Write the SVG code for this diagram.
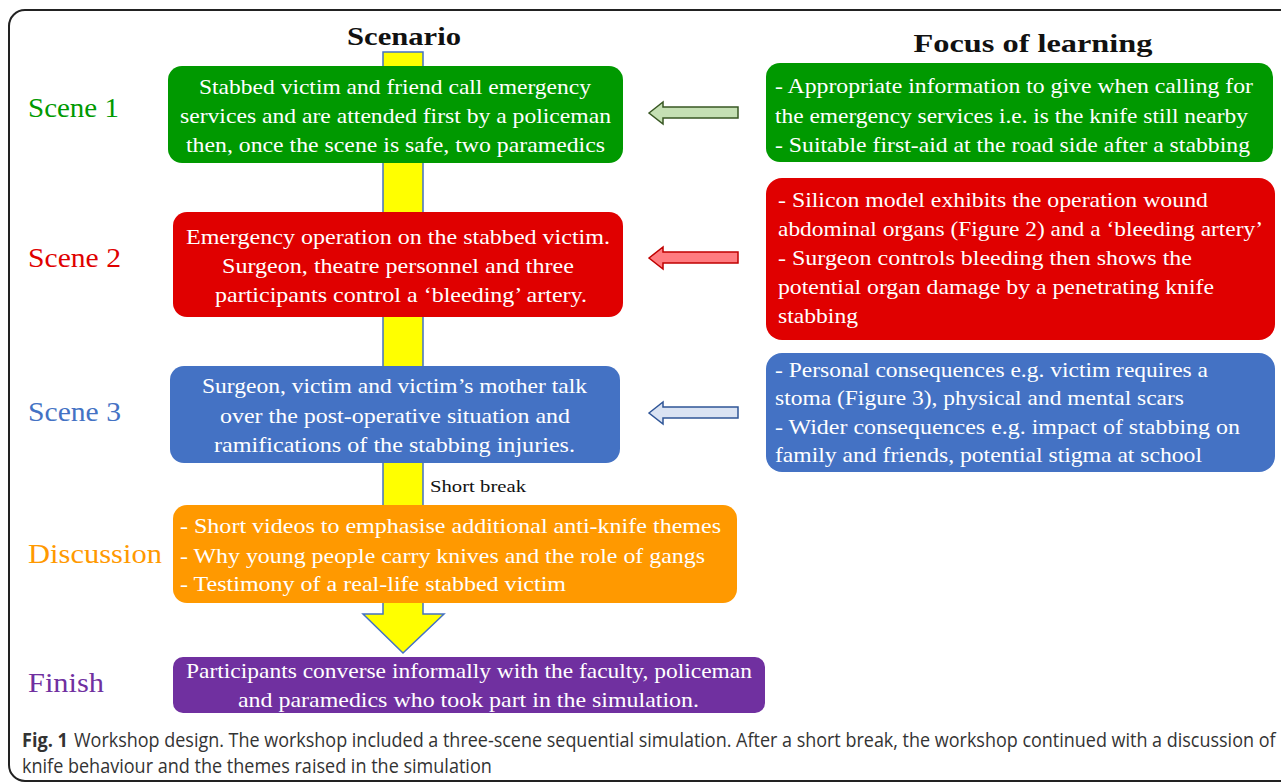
<svg xmlns="http://www.w3.org/2000/svg" width="1281" height="782" viewBox="0 0 1281 782">
<style>
.t{font-family:"Liberation Serif","Times New Roman",serif;fill:#fff;font-size:22px}
.c{text-anchor:middle}
.h{font-family:"Liberation Serif","Times New Roman",serif;font-size:26px;font-weight:bold;fill:#111;text-anchor:middle}
.lab{font-family:"Liberation Serif","Times New Roman",serif;font-size:28px}
.cap{font-family:"Open Sans","Liberation Sans",sans-serif;font-size:20px;fill:#333}
</style>
<rect x="9" y="10" width="1300" height="771" rx="16" fill="#fff" stroke="#222" stroke-width="2"/>
<text class="h" x="404" y="45" textLength="114" lengthAdjust="spacingAndGlyphs">Scenario</text>
<text class="h" x="1033" y="52" textLength="239" lengthAdjust="spacingAndGlyphs">Focus of learning</text>
<g id="connectors">
<polygon points="383,52 423,52 423,614 444,614 403,653 363,614 383,614" fill="#FFFF00" stroke="#4472C4" stroke-width="1.5"/>
<polygon points="649,113 663,102 663,107 738,107 738,118 663,118 663,124" fill="#C5E0B4" stroke="#385723" stroke-width="1.5"/>
<polygon points="649,258 663,247 663,252 738,252 738,263 663,263 663,269" fill="#FF7C80" stroke="#C00000" stroke-width="1.5"/>
<polygon points="649,413 663,402 663,407 738,407 738,418 663,418 663,424" fill="#DAE3F3" stroke="#2F5597" stroke-width="1.5"/>
</g>
<g id="labels">
<text class="lab" x="28" y="117" fill="#009900" textLength="91" lengthAdjust="spacingAndGlyphs">Scene 1</text>
<text class="lab" x="28" y="267" fill="#E00000" textLength="93" lengthAdjust="spacingAndGlyphs">Scene 2</text>
<text class="lab" x="28" y="421" fill="#4472C4" textLength="93" lengthAdjust="spacingAndGlyphs">Scene 3</text>
<text class="lab" x="28" y="563" fill="#FF9900" textLength="134" lengthAdjust="spacingAndGlyphs">Discussion</text>
<text class="lab" x="28" y="692" fill="#7030A0" textLength="76" lengthAdjust="spacingAndGlyphs">Finish</text>
</g>
<g id="scene1">
<rect x="168" y="66" width="455" height="97" rx="14" fill="#009900"/>
<text class="t c" x="395" y="94" textLength="392" lengthAdjust="spacingAndGlyphs">Stabbed victim and friend call emergency</text>
<text class="t c" x="395.5" y="123" textLength="431" lengthAdjust="spacingAndGlyphs">services and are attended first by a policeman</text>
<text class="t c" x="395.5" y="152" textLength="419" lengthAdjust="spacingAndGlyphs">then, once the scene is safe, two paramedics</text>
</g>
<g id="scene2">
<rect x="173" y="212" width="450" height="105" rx="14" fill="#E00000"/>
<text class="t c" x="398" y="244" textLength="424" lengthAdjust="spacingAndGlyphs">Emergency operation on the stabbed victim.</text>
<text class="t c" x="398" y="273" textLength="352" lengthAdjust="spacingAndGlyphs">Surgeon, theatre personnel and three</text>
<text class="t c" x="401" y="302" textLength="372" lengthAdjust="spacingAndGlyphs">participants control a ‘bleeding’ artery.</text>
</g>
<g id="scene3">
<rect x="170" y="366" width="450" height="97" rx="14" fill="#4472C4"/>
<text class="t c" x="394.5" y="393" textLength="385" lengthAdjust="spacingAndGlyphs">Surgeon, victim and victim’s mother talk</text>
<text class="t c" x="395" y="423" textLength="350" lengthAdjust="spacingAndGlyphs">over the post-operative situation and</text>
<text class="t c" x="394.5" y="452" textLength="361" lengthAdjust="spacingAndGlyphs">ramifications of the stabbing  injuries.</text>
</g>
<g id="short-break">
<text x="430" y="492" font-family="Liberation Serif, Times New Roman, serif" font-size="17" fill="#111" textLength="96" lengthAdjust="spacingAndGlyphs">Short break</text>
</g>
<g id="discussion">
<rect x="173" y="505" width="564" height="98" rx="14" fill="#FF9900"/>
<text class="t" x="180" y="533" textLength="541" lengthAdjust="spacingAndGlyphs">- Short videos to emphasise additional anti-knife themes</text>
<text class="t" x="180" y="563" textLength="525" lengthAdjust="spacingAndGlyphs">- Why young people carry knives and the role of gangs</text>
<text class="t" x="180" y="591" textLength="386" lengthAdjust="spacingAndGlyphs">- Testimony of a real-life stabbed victim</text>
</g>
<g id="finish">
<rect x="173" y="657" width="592" height="56" rx="10" fill="#7030A0"/>
<text class="t c" x="469" y="678" textLength="566" lengthAdjust="spacingAndGlyphs">Participants converse informally with the faculty, policeman</text>
<text class="t c" x="468.5" y="707" textLength="461" lengthAdjust="spacingAndGlyphs">and paramedics who took part in the simulation.</text>
</g>
<g id="focus1">
<rect x="766" y="63" width="507" height="99" rx="14" fill="#009900"/>
<text class="t" x="775" y="93" textLength="478" lengthAdjust="spacingAndGlyphs">- Appropriate information to give when calling for</text>
<text class="t" x="775" y="123" textLength="473" lengthAdjust="spacingAndGlyphs">the emergency services i.e. is the knife still nearby</text>
<text class="t" x="775" y="152" textLength="475" lengthAdjust="spacingAndGlyphs">- Suitable first-aid at the road side after a stabbing</text>
</g>
<g id="focus2">
<rect x="766" y="178" width="509" height="162" rx="16" fill="#E00000"/>
<text class="t" x="778" y="207" textLength="430" lengthAdjust="spacingAndGlyphs">- Silicon model exhibits the operation wound</text>
<text class="t" x="778" y="236" textLength="485" lengthAdjust="spacingAndGlyphs">abdominal organs (Figure 2) and a ‘bleeding artery’</text>
<text class="t" x="778" y="265" textLength="414" lengthAdjust="spacingAndGlyphs">- Surgeon controls bleeding then shows the</text>
<text class="t" x="778" y="294" textLength="436" lengthAdjust="spacingAndGlyphs">potential organ damage by a penetrating knife</text>
<text class="t" x="778" y="323" textLength="80" lengthAdjust="spacingAndGlyphs">stabbing</text>
</g>
<g id="focus3">
<rect x="766" y="353" width="509" height="119" rx="16" fill="#4472C4"/>
<text class="t" x="775" y="377" textLength="433" lengthAdjust="spacingAndGlyphs">- Personal consequences e.g. victim requires a</text>
<text class="t" x="775" y="405" textLength="409" lengthAdjust="spacingAndGlyphs">stoma (Figure 3), physical and mental scars</text>
<text class="t" x="775" y="434" textLength="465" lengthAdjust="spacingAndGlyphs">- Wider consequences e.g. impact of stabbing on</text>
<text class="t" x="775" y="462" textLength="427" lengthAdjust="spacingAndGlyphs">family and friends, potential stigma at school</text>
</g>
<g id="caption">
<text class="cap" transform="translate(22,747) scale(0.9,1)" x="0" y="0" font-weight="bold" fill="#222" textLength="51" lengthAdjust="spacingAndGlyphs">Fig. 1</text>
<text class="cap" transform="translate(74,747) scale(0.9,1)" x="0" y="0" textLength="1335" lengthAdjust="spacingAndGlyphs">Workshop design. The workshop included a three-scene sequential simulation. After a short break, the workshop continued with a discussion of</text>
<text class="cap" transform="translate(22,773) scale(0.9,1)" x="0" y="0" textLength="522" lengthAdjust="spacingAndGlyphs">knife behaviour and the themes raised in the simulation</text>
</g>
</svg>
